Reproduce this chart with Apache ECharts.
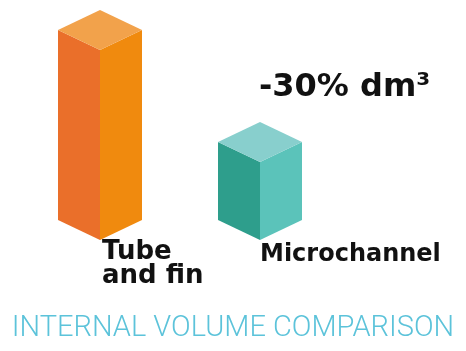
<!DOCTYPE html>
<html>
<head>
<meta charset="utf-8">
<script src="https://cdn.jsdelivr.net/npm/echarts@6/dist/echarts.min.js"></script>
<style>
  html, body { margin: 0; padding: 0; background: #ffffff; }
  #chart { width: 466px; height: 351px; }
</style>
</head>
<body>
<div id="chart"></div>
<script>
// Internal volume of the two heat-exchanger types (relative units)
const categories = ['Tube\nand fin', 'Microchannel'];
const volumes = [100, 41];
const reductionLabel = '-30% dm³';
const chartTitle = 'INTERNAL VOLUME COMPARISON';

// Face colours per bar: [left, right, top]
const faceColors = [
  ['#EA6F2A', '#F08A0E', '#F2A24B'],
  ['#2E9E8C', '#5BC3BA', '#88CFCD']
];

const HALF_W = 42;   // half width of the prism in px
const DEPTH = 20;    // vertical offset of the isometric top diamond

function renderPrism(params, api) {
  const idx = api.value(0);
  const top = api.coord([idx, api.value(1)]);
  const base = api.coord([idx, 0]);
  const x = top[0], yt = top[1], yb = base[1];
  const c = faceColors[params.dataIndex];
  return {
    type: 'group',
    children: [
      { type: 'polygon', shape: { points: [[x - HALF_W, yt - DEPTH], [x, yt], [x, yb], [x - HALF_W, yb - DEPTH]] },
        style: { fill: c[0] } },
      { type: 'polygon', shape: { points: [[x, yt], [x + HALF_W, yt - DEPTH], [x + HALF_W, yb - DEPTH], [x, yb]] },
        style: { fill: c[1] } },
      { type: 'polygon', shape: { points: [[x, yt], [x - HALF_W, yt - DEPTH], [x, yt - 2 * DEPTH], [x + HALF_W, yt - DEPTH]] },
        style: { fill: c[2] } }
    ]
  };
}

const chart = echarts.init(document.getElementById('chart'));
chart.setOption({
  animation: false,
  backgroundColor: '#ffffff',
  title: {
    text: chartTitle,
    left: 'center',
    top: 309,
    textStyle: { fontFamily: 'Roboto', fontWeight: 300, fontSize: 29, color: '#5CC3DA' }
  },
  grid: { left: 20, right: 126, top: 50, bottom: 111 },
  xAxis: {
    type: 'category',
    data: categories,
    axisLine: { show: false },
    axisTick: { show: false },
    axisLabel: {
      align: 'left',
      verticalAlign: 'top',
      margin: 0,
      formatter: function (v, i) { return i === 0 ? '{a|' + v.split('\n').join('}\n{a|') + '}' : '{b|' + v + '}'; },
      rich: {
        a: { fontFamily: 'DejaVu Sans', fontSize: 26, fontWeight: 'bold', color: '#111', lineHeight: 24, padding: [0, 0, 0, 2] },
        b: { fontFamily: 'DejaVu Sans', fontSize: 24, fontWeight: 'bold', color: '#111', lineHeight: 24, padding: [6, 0, 0, 0] }
      }
    }
  },
  yAxis: { type: 'value', min: 0, max: 100, show: false, splitLine: { show: false } },
  graphic: [{
    type: 'text',
    left: 259,
    top: 72,
    style: { text: reductionLabel, fontFamily: 'DejaVu Sans', fontWeight: 'bold', fontSize: 32, fill: '#111' }
  }],
  series: [{
    type: 'custom',
    renderItem: renderPrism,
    data: volumes.map((v, i) => [i, v])
  }]
});
</script>
</body>
</html>
